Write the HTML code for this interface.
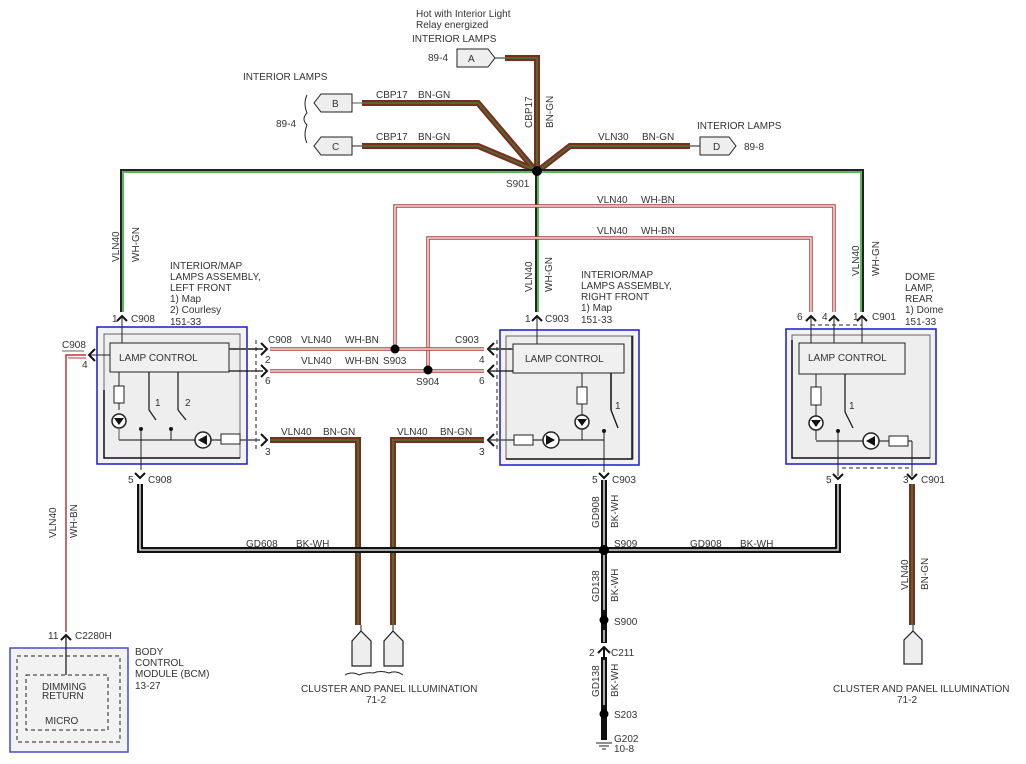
<!DOCTYPE html>
<html><head><meta charset="utf-8"><style>
html,body{margin:0;padding:0;background:#fff}
svg{display:block}
text{font-family:"Liberation Sans",sans-serif;font-size:10px;fill:#333}
.bg{fill:none;stroke:#7d2a22;stroke-width:6;stroke-linejoin:miter}
.bgi{fill:none;stroke:#4f6b2a;stroke-width:2}
.wg{fill:none;stroke:#222;stroke-width:4}
.wgi{fill:none;stroke:#5cb85c;stroke-width:2}
.wb{fill:none;stroke:#b03a3a;stroke-width:3.5}
.wbi{fill:none;stroke:#fff;stroke-width:1.3}
.bk{fill:none;stroke:#111;stroke-width:6}
.bki{fill:none;stroke:#fff;stroke-width:1.3}
.ln{fill:none;stroke:#222;stroke-width:1.3}
.gl{fill:none;stroke:#555;stroke-width:2}
.ar{fill:none;stroke:#111;stroke-width:2}
</style></head><body>
<svg width="1026" height="764" viewBox="0 0 1026 764" xmlns="http://www.w3.org/2000/svg">

<!-- top connectors -->
<text x="416" y="17">Hot with Interior Light</text>
<text x="416" y="28">Relay energized</text>
<text x="412" y="42">INTERIOR LAMPS</text>
<text x="428" y="61">89-4</text>
<path d="M457,49 H488 L495,58 L488,67 H457 Z" fill="#eee" stroke="#222"/>
<text x="468" y="62">A</text>
<line x1="495" y1="58" x2="505" y2="58" stroke="#222"/>
<text x="243" y="80">INTERIOR LAMPS</text>
<text x="276" y="127">89-4</text>
<path d="M307,95 q-4,8 0,18 q-6,6 0,12 q-4,10 0,18" fill="none" stroke="#222"/>
<path d="M352,94 H321 L314,103 L321,112 H352 Z" fill="#eee" stroke="#222"/>
<text x="332" y="107">B</text>
<path d="M352,137 H321 L314,146 L321,155 H352 Z" fill="#eee" stroke="#222"/>
<text x="332" y="150">C</text>
<line x1="352" y1="103" x2="362" y2="103" stroke="#555"/>
<line x1="352" y1="146" x2="362" y2="146" stroke="#222"/>
<text x="376" y="98">CBP17</text><text x="418" y="98">BN-GN</text>
<text x="376" y="140">CBP17</text><text x="418" y="140">BN-GN</text>
<text x="598" y="140">VLN30</text><text x="642" y="140">BN-GN</text>
<text x="697" y="129">INTERIOR LAMPS</text>
<path d="M700,137 H729 L736,146 L729,155 H700 Z" fill="#eee" stroke="#222"/>
<text x="713" y="150">D</text>
<line x1="690" y1="146" x2="700" y2="146" stroke="#222"/>
<text x="744" y="150">89-8</text>
<text transform="translate(532,128) rotate(-90)">CBP17</text>
<text transform="translate(553,128) rotate(-90)">BN-GN</text>

<g>
<path class="bg" d="M505,58 H537 V170"/>
<path class="bg" d="M362,103 H478 L535,170"/>
<path class="bg" d="M362,146 H478 L535,170"/>
<path class="bg" d="M690,146 H570 L539,170"/>
<path class="bgi" d="M505,58 H537 V170"/>
<path class="bgi" d="M362,103 H478 L535,170"/>
<path class="bgi" d="M362,146 H478 L535,170"/>
<path class="bgi" d="M690,146 H570 L539,170"/>
</g>

<!-- WH-GN -->
<path class="wg" d="M122,312 V171 H862 V312"/>
<path class="wgi" d="M123,312 V172 H861 V312"/>
<path class="wg" d="M537,171 V312"/>
<path class="wgi" d="M538,171 V312"/>
<circle cx="537" cy="171" r="5" fill="#000"/>
<text x="506" y="187">S901</text>

<!-- WH-BN -->
<path class="wb" d="M395,349 V206 H834 V312"/>
<path class="wbi" d="M395,349 V206 H834 V312"/>
<path class="wb" d="M428,370 V238 H811 V312"/>
<path class="wbi" d="M428,370 V238 H811 V312"/>
<path class="wb" d="M270,349 H484"/>
<path class="wbi" d="M270,349 H484"/>
<path class="wb" d="M270,371 H484"/>
<path class="wbi" d="M270,371 H484"/>
<circle cx="395" cy="349" r="4.5" fill="#000"/>
<circle cx="428" cy="370" r="4.5" fill="#000"/>
<text x="597" y="203">VLN40</text><text x="641" y="203">WH-BN</text>
<text x="597" y="234">VLN40</text><text x="641" y="234">WH-BN</text>
<text x="268" y="343">C908</text><text x="301" y="343">VLN40</text><text x="345" y="343">WH-BN</text>
<text x="455" y="343">C903</text>
<text x="301" y="364">VLN40</text><text x="345" y="364">WH-BN</text><text x="383" y="364">S903</text>
<text x="416" y="385">S904</text>
<text x="265" y="363">2</text><text x="265" y="384">6</text>
<text x="479" y="363">4</text><text x="479" y="384">6</text>

<!-- vertical labels -->
<text transform="translate(119,262) rotate(-90)">VLN40</text>
<text transform="translate(139,262) rotate(-90)">WH-GN</text>
<text transform="translate(532,292) rotate(-90)">VLN40</text>
<text transform="translate(552,292) rotate(-90)">WH-GN</text>
<text transform="translate(859,276) rotate(-90)">VLN40</text>
<text transform="translate(879,276) rotate(-90)">WH-GN</text>

<!-- left red wire -->
<path d="M86,355 H66 V632" fill="none" stroke="#c03838" stroke-width="1.5"/>
<path d="M86,358 H68" fill="none" stroke="#c03838" stroke-width="1"/>
<text x="62" y="348">C908</text>
<line x1="62" y1="351" x2="84" y2="351" stroke="#333" stroke-width="0.8"/>
<text x="82" y="368">4</text>
<path class="ar" d="M95,349 L89,355 L95,361"/>
<text transform="translate(56,538) rotate(-90)">VLN40</text>
<text transform="translate(77,538) rotate(-90)">WH-BN</text>

<!-- BN-GN lower -->
<path class="bg" d="M270,440 H358 V625"/>
<path class="bgi" d="M270,440 H358 V625"/>
<path class="bg" d="M484,440 H393 V625"/>
<path class="bgi" d="M484,440 H393 V625"/>
<path class="bg" d="M912,484 V625"/>
<path class="bgi" d="M912,484 V625"/>
<text x="281" y="435">VLN40</text><text x="323" y="435">BN-GN</text>
<text x="397" y="435">VLN40</text><text x="440" y="435">BN-GN</text>
<text x="265" y="455">3</text><text x="479" y="455">3</text>
<text transform="translate(908,590) rotate(-90)">VLN40</text>
<text transform="translate(928,590) rotate(-90)">BN-GN</text>

<!-- cluster connectors -->
<g fill="#eee" stroke="#222" stroke-width="1.2">
<path d="M352,666 V641 L361,631 L371,641 V666 Z"/>
<path d="M384,666 V641 L393,631 L403,641 V666 Z"/>
<path d="M904,664 V640 L913,631 L922,640 V664 Z"/>
</g>
<line x1="361" y1="625" x2="361" y2="632" stroke="#222"/>
<line x1="393" y1="625" x2="393" y2="632" stroke="#222"/>
<line x1="913" y1="625" x2="913" y2="632" stroke="#222"/>
<path d="M345,675 q7,-4 14,0 q7,-3 14,-2 q8,-3 16,0 q7,-3 14,2" fill="none" stroke="#222"/>
<text x="301" y="692">CLUSTER AND PANEL ILLUMINATION</text>
<text x="366" y="703">71-2</text>
<text x="833" y="692">CLUSTER AND PANEL ILLUMINATION</text>
<text x="897" y="703">71-2</text>

<!-- BK-WH ground -->
<path class="bk" d="M140,484 V550 H838 V484"/>
<path class="bki" d="M140,484 V550 H838 V484"/>
<path class="bk" d="M604,480 V740"/>
<path class="bki" d="M604,480 V610"/>
<path class="bki" d="M604,630 V642"/>
<path class="bki" d="M604,660 V705"/>
<line x1="596" y1="743" x2="612" y2="743" stroke="#222"/>
<line x1="599" y1="746" x2="609" y2="746" stroke="#222"/>
<line x1="602" y1="749" x2="606" y2="749" stroke="#222"/>
<circle cx="604" cy="550" r="5" fill="#000"/>
<circle cx="604" cy="620" r="4.5" fill="#000"/>
<circle cx="604" cy="714" r="4.5" fill="#000"/>
<rect x="598" y="643" width="12" height="14" fill="#fff"/>
<path class="ar" d="M598,653 L604,647 L610,653"/>
<line x1="604" y1="647" x2="604" y2="660" stroke="#111" stroke-width="2"/>
<text x="246" y="547">GD608</text><text x="296" y="547">BK-WH</text>
<text x="690" y="547">GD908</text><text x="740" y="547">BK-WH</text>
<text x="614" y="547">S909</text>
<text x="614" y="625">S900</text>
<text x="589" y="656">2</text><text x="611" y="656">C211</text>
<text x="614" y="718">S203</text>
<text x="614" y="742">G202</text><text x="614" y="752">10-8</text>
<text transform="translate(599,528) rotate(-90)">GD908</text>
<text transform="translate(618,528) rotate(-90)">BK-WH</text>
<text transform="translate(599,602) rotate(-90)">GD138</text>
<text transform="translate(618,602) rotate(-90)">BK-WH</text>
<text transform="translate(599,697) rotate(-90)">GD138</text>
<text transform="translate(618,697) rotate(-90)">BK-WH</text>

<!-- ===== Left box ===== -->
<text x="170" y="269">INTERIOR/MAP</text>
<text x="170" y="280">LAMPS ASSEMBLY,</text>
<text x="170" y="291">LEFT FRONT</text>
<text x="170" y="302">1) Map</text>
<text x="170" y="313">2) Courlesy</text>
<text x="170" y="325">151-33</text>
<text x="112" y="322">1</text><text x="131" y="322">C908</text>
<path class="ar" d="M117,321 L122,316 L127,321"/>
<rect x="97" y="327" width="150" height="137" fill="#f2f2f2" stroke="#1a1acc" stroke-width="1.5"/>
<rect x="104" y="334" width="136" height="124" fill="#eee" stroke="#666"/>
<path d="M104,390 V458 H240" fill="none" stroke="#111" stroke-width="1.5"/>
<line x1="122" y1="316" x2="122" y2="343" stroke="#222"/>
<rect x="110" y="343" width="119" height="29" fill="#f0f0f0" stroke="#222"/>
<text x="119" y="361">LAMP CONTROL</text>
<line x1="229" y1="349" x2="263" y2="349" class="gl"/>
<line x1="229" y1="371" x2="263" y2="371" stroke="#111" stroke-width="1.2"/>
<line x1="110" y1="355" x2="88" y2="355" stroke="#222"/>
<path class="ar" d="M261,343 L267,349 L261,355"/>
<path class="ar" d="M261,365 L267,371 L261,377"/>
<path class="ar" d="M261,434 L267,440 L261,446"/>
<line x1="256" y1="340" x2="256" y2="452" stroke="#222" stroke-dasharray="4,3"/>
<line x1="119" y1="372" x2="119" y2="410" stroke="#222"/>
<rect x="114" y="386" width="10" height="17" fill="#fff" stroke="#222"/>
<circle cx="119" cy="421" r="7" fill="#fff" stroke="#222" stroke-width="1.5"/>
<path d="M114,418 H124 L119,425 Z" fill="#111"/>
<line x1="119" y1="428" x2="119" y2="440" stroke="#555"/>
<line x1="119" y1="440" x2="260" y2="440" stroke="#555" stroke-width="1.5"/>
<line x1="149" y1="372" x2="149" y2="410" stroke="#222" stroke-width="1.3"/>
<line x1="149" y1="410" x2="156" y2="420" stroke="#222" stroke-width="1.3"/>
<text x="155" y="406">1</text>
<line x1="178" y1="372" x2="178" y2="410" stroke="#222" stroke-width="1.3"/>
<line x1="178" y1="410" x2="186" y2="420" stroke="#222" stroke-width="1.3"/>
<text x="185" y="406">2</text>
<circle cx="141" cy="429" r="2" fill="#111"/><line x1="141" y1="429" x2="141" y2="470" stroke="#222"/>
<circle cx="171" cy="429" r="2" fill="#111"/><line x1="171" y1="429" x2="171" y2="440" stroke="#222"/>
<circle cx="203" cy="440" r="8" fill="#fff" stroke="#222" stroke-width="1.5"/>
<path d="M198,440 L207,435 V445 Z" fill="#111"/>
<rect x="221" y="434" width="19" height="10" fill="#fff" stroke="#222"/>
<text x="128" y="483">5</text><text x="148" y="483">C908</text>
<path class="ar" d="M135,473 L140,478 L145,473"/>

<!-- ===== Middle box ===== -->
<text x="581" y="278">INTERIOR/MAP</text>
<text x="581" y="289">LAMPS ASSEMBLY,</text>
<text x="581" y="300">RIGHT FRONT</text>
<text x="581" y="311">1) Map</text>
<text x="581" y="323">151-33</text>
<text x="525" y="322">1</text><text x="545" y="322">C903</text>
<path class="ar" d="M532,321 L537,316 L542,321"/>
<rect x="500" y="330" width="139" height="135" fill="#f2f2f2" stroke="#1a1acc" stroke-width="1.5"/>
<rect x="506" y="336" width="127" height="123" fill="#eee" stroke="#666"/>
<path d="M632,336 V459 H506" fill="none" stroke="#111" stroke-width="1.5"/>
<line x1="537" y1="316" x2="537" y2="344" stroke="#222"/>
<rect x="513" y="344" width="111" height="29" fill="#f0f0f0" stroke="#222"/>
<text x="525" y="362">LAMP CONTROL</text>
<line x1="490" y1="349" x2="513" y2="349" class="gl"/>
<line x1="490" y1="371" x2="513" y2="371" stroke="#111" stroke-width="1.2"/>
<path class="ar" d="M494,343 L488,349 L494,355"/>
<path class="ar" d="M494,365 L488,371 L494,377"/>
<path class="ar" d="M494,434 L488,440 L494,446"/>
<line x1="497" y1="340" x2="497" y2="452" stroke="#222" stroke-dasharray="4,3"/>
<line x1="490" y1="440" x2="604" y2="440" stroke="#555" stroke-width="1.5"/>
<rect x="514" y="435" width="19" height="10" fill="#fff" stroke="#222"/>
<circle cx="551" cy="440" r="8" fill="#fff" stroke="#222" stroke-width="1.5"/>
<path d="M546,435 V445 L555,440 Z" fill="#111"/>
<line x1="582" y1="373" x2="582" y2="440" stroke="#222"/>
<rect x="577" y="387" width="10" height="17" fill="#fff" stroke="#222"/>
<circle cx="582" cy="422" r="7" fill="#fff" stroke="#222" stroke-width="1.5"/>
<path d="M577,419 H587 L582,426 Z" fill="#111"/>
<line x1="611" y1="373" x2="611" y2="410" stroke="#111" stroke-width="1.5"/>
<line x1="611" y1="410" x2="618" y2="428" stroke="#111" stroke-width="1.3"/>
<text x="615" y="409">1</text>
<circle cx="604" cy="431" r="2" fill="#111"/>
<line x1="604" y1="431" x2="604" y2="472" stroke="#222"/>
<text x="592" y="483">5</text><text x="612" y="483">C903</text>
<path class="ar" d="M599,473 L604,478 L609,473"/>

<!-- ===== Right box ===== -->
<text x="905" y="280">DOME</text>
<text x="905" y="291">LAMP,</text>
<text x="905" y="302">REAR</text>
<text x="905" y="313">1) Dome</text>
<text x="905" y="325">151-33</text>
<text x="797" y="320">6</text><text x="822" y="320">4</text><text x="853" y="320">1</text><text x="872" y="320">C901</text>
<path class="ar" d="M806,321 L811,316 L816,321"/>
<path class="ar" d="M829,321 L834,316 L839,321"/>
<path class="ar" d="M857,321 L862,316 L867,321"/>
<line x1="811" y1="325" x2="862" y2="325" stroke="#222" stroke-dasharray="4,3"/>
<rect x="786" y="329" width="150" height="135" fill="#f2f2f2" stroke="#1a1acc" stroke-width="1.5"/>
<rect x="792" y="335" width="138" height="123" fill="#eee" stroke="#666"/>
<path d="M792,340 V458 H930" fill="none" stroke="#111" stroke-width="1.5"/>
<line x1="811" y1="316" x2="811" y2="343" stroke="#222"/>
<line x1="834" y1="316" x2="834" y2="343" stroke="#222"/>
<line x1="862" y1="316" x2="862" y2="343" stroke="#222"/>
<rect x="799" y="343" width="106" height="31" fill="#f0f0f0" stroke="#222"/>
<text x="808" y="361">LAMP CONTROL</text>
<line x1="816" y1="374" x2="816" y2="440" stroke="#222"/>
<rect x="811" y="387" width="10" height="18" fill="#fff" stroke="#222"/>
<circle cx="816" cy="423" r="7" fill="#fff" stroke="#222" stroke-width="1.5"/>
<path d="M811,420 H821 L816,427 Z" fill="#111"/>
<line x1="816" y1="441" x2="912" y2="441" stroke="#555" stroke-width="1.5"/>
<line x1="845" y1="374" x2="845" y2="412" stroke="#222" stroke-width="1.3"/>
<line x1="845" y1="412" x2="853" y2="428" stroke="#222" stroke-width="1.3"/>
<text x="849" y="409">1</text>
<circle cx="838" cy="431" r="2" fill="#111"/>
<line x1="838" y1="431" x2="838" y2="476" stroke="#222"/>
<circle cx="871" cy="441" r="8" fill="#fff" stroke="#222" stroke-width="1.5"/>
<path d="M866,441 L875,436 V446 Z" fill="#111"/>
<rect x="889" y="436" width="19" height="10" fill="#fff" stroke="#222"/>
<line x1="912" y1="441" x2="912" y2="476" stroke="#222"/>
<line x1="842" y1="468" x2="912" y2="468" stroke="#222" stroke-dasharray="4,3"/>
<text x="826" y="483">5</text><text x="903" y="483">3</text><text x="921" y="483">C901</text>
<path class="ar" d="M833,474 L838,479 L843,474"/>
<path class="ar" d="M907,474 L912,479 L917,474"/>

<!-- BCM -->
<text x="48" y="639">11</text><text x="75" y="639">C2280H</text>
<path class="ar" d="M61,640 L66,635 L71,640"/>
<rect x="10" y="648" width="118" height="104" fill="#f2f2f2" stroke="#4a4acc" stroke-width="1.5"/>
<rect x="17" y="656" width="103" height="86" fill="none" stroke="#222" stroke-dasharray="4,3"/>
<rect x="26" y="675" width="82" height="55" fill="none" stroke="#222" stroke-dasharray="4,3"/>
<line x1="66" y1="635" x2="66" y2="675" stroke="#222" stroke-width="1.3"/>
<text x="42" y="690">DIMMING</text>
<text x="42" y="699">RETURN</text>
<text x="45" y="724">MICRO</text>
<text x="135" y="655">BODY</text>
<text x="135" y="666">CONTROL</text>
<text x="135" y="677">MODULE (BCM)</text>
<text x="135" y="689">13-27</text>
</svg>
</body></html>
